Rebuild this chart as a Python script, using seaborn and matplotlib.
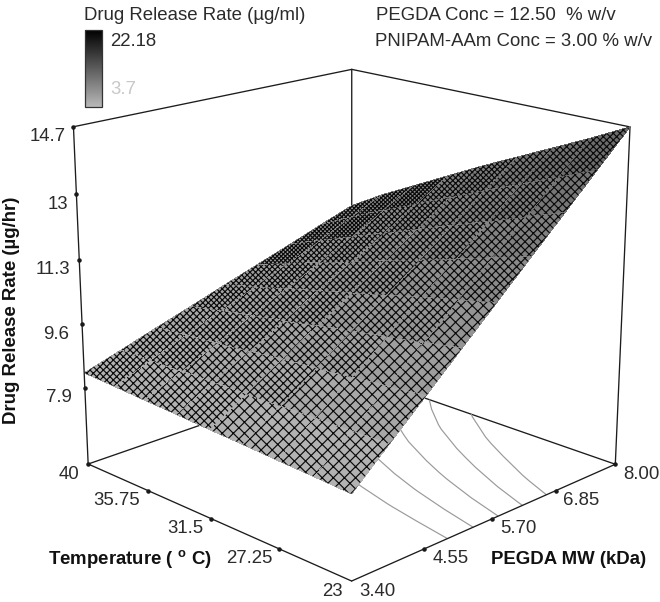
import numpy as np
import matplotlib
matplotlib.use("Agg")
import matplotlib.pyplot as plt
import seaborn as sns
from matplotlib.cm import ScalarMappable
from matplotlib.colors import Normalize
from mpl_toolkits.mplot3d import proj3d
from mpl_toolkits.mplot3d.art3d import Poly3DCollection

mw_ticks = [3.40, 4.55, 5.70, 6.85, 8.00]
mw_labels = ["3.40", "4.55", "5.70", "6.85", "8.00"]
temp_ticks = [40, 35.75, 31.5, 27.25, 23]
temp_labels = ["40", "35.75", "31.5", "27.25", "23"]
rate_ticks = [7.9, 9.6, 11.3, 13, 14.7]
rate_labels = ["7.9", "9.6", "11.3", "13", "14.7"]
rate_floor = 5.8

# surface heights, rows = temperature, columns = MW
mw_grid = [3.4, 3.975, 4.55, 5.125, 5.7, 6.275, 6.85, 7.425, 8.0]
temp_grid = [23, 25.125, 27.25, 29.375, 31.5, 33.625, 35.75, 37.875, 40]
rate = [
    [7.94, 8.79, 9.63, 10.48, 11.32, 12.17, 13.01, 13.86, 14.70],
    [7.99, 8.76, 9.54, 10.32, 11.10, 11.88, 12.66, 13.44, 14.21],
    [8.03, 8.74, 9.45, 10.17, 10.88, 11.59, 12.30, 13.02, 13.75],
    [8.08, 8.72, 9.37, 10.01, 10.66, 11.30, 11.95, 12.63, 13.29],
    [8.12, 8.70, 9.28, 9.86, 10.44, 11.02, 11.61, 12.22, 12.83],
    [8.17, 8.68, 9.19, 9.70, 10.22, 10.73, 11.25, 11.80, 12.34],
    [8.21, 8.66, 9.10, 9.55, 10.00, 10.44, 10.90, 11.39, 11.85],
    [8.26, 8.64, 9.02, 9.40, 9.78, 10.16, 10.55, 10.96, 11.36],
    [8.30, 8.61, 8.93, 9.24, 9.56, 9.87, 10.18, 10.50, 10.81],
]
contour_levels = [10.2, 10.84, 11.48, 12.12, 12.76]
bar_min, bar_max = 3.7, 22.18

W, H = 660, 602
sns.set_theme(style="white")
plt.rcParams["font.family"] = ["Liberation Sans", "DejaVu Sans"]
plt.rcParams["mathtext.fontset"] = "custom"
plt.rcParams["mathtext.bf"] = "Liberation Sans:bold"
plt.rcParams["hatch.linewidth"] = 0.85

gray_map = sns.blend_palette(["#b8b8b8", "#000000"], as_cmap=True)
norm = Normalize(bar_min, bar_max)
face_norm = Normalize(7.8, 23)
line_col = "#1c1c1c"
text_col = "#2b2b2b"

fig = plt.figure(figsize=(W / 100, H / 100), dpi=100)
ax = fig.add_axes([28.95 / W, -20.8 / H, 628.5 / W, 628.5 / H],
                  projection="3d", computed_zorder=False)
ax.set_xlim(mw_ticks[0], mw_ticks[-1])
ax.set_ylim(temp_ticks[-1], temp_ticks[0])
ax.set_zlim(rate_floor, rate_ticks[-1])
ax.view_init(elev=18.26, azim=-134.96)
ax.set_proj_type("persp", focal_length=0.6033)
ax.set_box_aspect((1, 1.001, 0.9275), zoom=1)
ax.set_axis_off()
ax.patch.set_alpha(0)

x0, x1 = mw_ticks[0], mw_ticks[-1]
y0, y1 = temp_ticks[-1], temp_ticks[0]
z0, z1 = rate_floor, rate_ticks[-1]

# frame, back parts first
frame = [
    ((x0, x1), (y1, y1), (z0, z0)), ((x1, x1), (y0, y1), (z0, z0)),
    ((x0, x1), (y1, y1), (z1, z1)), ((x1, x1), (y0, y1), (z1, z1)),
    ((x1, x1), (y1, y1), (z0, z1)), ((x1, x1), (y0, y0), (z0, z1)),
]
for fx, fy, fz in frame:
    ax.plot(fx, fy, fz, color=line_col, lw=0.95, zorder=1)

# contours on the floor, under the surface
X, Y = np.meshgrid(mw_grid, temp_grid)
Z = np.array(rate)
ax.contour(X, Y, Z, levels=contour_levels, zdir="z", offset=z0,
           colors="#9a9a9a", linewidths=0.85, zorder=2)

# mesh is drawn as hatching, tighter towards the far corner as in the picture
bands = {"xxx": (0, 3), "xxxx": (4, 6), "xxxxx": (7, 9), "xxxxxx": (10, 11), "xxxxxxxx": (12, 14)}
for hatch, (lo, hi) in bands.items():
    verts, faces = [], []
    for i in range(len(temp_grid) - 1):
        for j in range(len(mw_grid) - 1):
            if lo <= i + j <= hi:
                idx = [(i, j), (i, j + 1), (i + 1, j + 1), (i + 1, j)]
                verts.append([(mw_grid[b], temp_grid[a], rate[a][b]) for a, b in idx])
                faces.append(gray_map(face_norm(np.mean([rate[a][b] for a, b in idx]))))
    poly = Poly3DCollection(verts, facecolors=faces, edgecolors="#0a0a0a",
                            linewidths=0, hatch=hatch, antialiased=False, zorder=3)
    ax.add_collection3d(poly)

# left upright and the two front floor edges with their tick dots
ax.plot((x0, x0), (y1, y1), (z0, z1), color=line_col, lw=0.95, zorder=4)
ax.plot((x0, x0), (y0, y1), (z0, z0), color=line_col, lw=0.95, zorder=4)
ax.plot((x0, x1), (y0, y0), (z0, z0), color=line_col, lw=0.95, zorder=4)
ax.scatter([x0] * 5, [y1] * 5, rate_ticks, c="k", s=5, depthshade=False, zorder=5)
ax.scatter([x0] * 4, temp_ticks[:-1], [z0] * 4, c="k", s=5, depthshade=False, zorder=5)
ax.scatter(mw_ticks[1:], [y0] * 4, [z0] * 4, c="k", s=5, depthshade=False, zorder=5)


def tick_text(x, y, z, label, dx, dy):
    px, py, _ = proj3d.proj_transform(x, y, z, ax.get_proj())
    ax.annotate(label, xy=(px, py), xytext=(dx, dy), textcoords="offset pixels",
                ha="center", va="center", fontsize=13.4, color=text_col,
                annotation_clip=False)


for v, lab in zip(rate_ticks, rate_labels):
    tick_text(x0, y1, v, lab, -26 if len(lab) > 2 else -18, -10)
temp_dx = [-19, -31, -26, -30, -19]
for v, lab, dx in zip(temp_ticks, temp_labels, temp_dx):
    tick_text(x0, v, z0, lab, dx, -10)
for v, lab in zip(mw_ticks, mw_labels):
    tick_text(v, y0, z0, lab, 26, -10)


def px_text(x, y, s, **kw):
    fig.text(x / W, 1 - y / H, s, va="center", fontsize=13.4, **kw)


px_text(84, 15, "Drug Release Rate (µg/ml)", color=text_col)
px_text(110, 42, "22.18", color=text_col)
px_text(110, 90, "3.7", color="#c8c8c8")
px_text(376, 16, "PEGDA Conc = 12.50  % w/v", color=text_col)
px_text(375, 42, "PNIPAM-AAm Conc = 3.00 % w/v", color=text_col)
px_text(12, 310, "Drug Release Rate (µg/hr)", rotation=90, ha="center",
        fontweight="bold", color="#111111")
px_text(48, 560, r"Temperature ( $^{\mathbf{o}}$ C)", fontweight="bold", color="#111111")
px_text(491, 559, "PEGDA MW (kDa)", fontweight="bold", color="#111111")

cax = fig.add_axes([85 / W, 1 - 107 / H, 17 / W, 77 / H])
cbar = fig.colorbar(ScalarMappable(norm=norm, cmap=gray_map), cax=cax)
cbar.set_ticks([])
cbar.outline.set_edgecolor("#333333")
cbar.outline.set_linewidth(0.9)

fig.savefig("out.png", dpi=100)
